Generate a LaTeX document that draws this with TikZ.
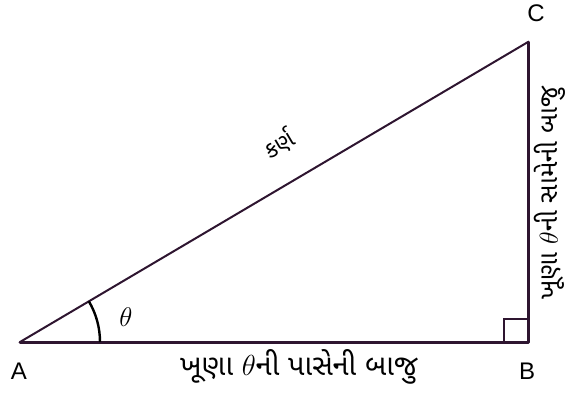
\documentclass[tikz,border=0pt]{standalone}
\usepackage{fontspec}
\usepackage{fix-cm}
\setmainfont{Liberation Sans}
\newfontfamily\guj[Script=Gujarati]{Noto Sans Gujarati UI}
\definecolor{edge}{HTML}{2E1530}
\begin{document}
\begin{tikzpicture}[x=1pt,y=-1pt,
  side/.style={draw=edge,line width=3pt},
  hyp/.style={draw=edge,line width=2pt},
  vlabel/.style={font=\fontsize{24}{26}\selectfont,inner sep=0pt},
  gtext/.style={font=\guj\fontsize{29}{31}\selectfont,inner sep=0pt}]
\useasboundingbox (0,0) rectangle (568,392);
\coordinate (A) at (20,342);
\coordinate (B) at (528,342);
\coordinate (C) at (528,42);
\draw[hyp,line cap=round] (A) -- (C);
\draw[side,line cap=round,line join=round] (A) -- (B) -- (C);
\draw[draw=edge,line width=2pt] (504,342) -- (504,319) -- (528,319);
\draw[line width=2.4pt,black] ([shift={(0:80)}]A) arc[start angle=0,end angle=-30.6,radius=80];
\node[font=\fontsize{27}{29}\selectfont,inner sep=0pt] (th) at (126,317) {$\theta$};
\node[vlabel] (lA) at (19,371) {A};
\node[vlabel] (lB) at (527,371) {B};
\node[vlabel] (lC) at (536,13) {C};
\node[font=\guj\fontsize{23}{25}\selectfont,inner sep=0pt,rotate=30.6] (hl) at (279,144) {કર્ણ};
\node[gtext] (bl) at (299,367) {ખૂણા $\theta$ની પાસેની બાજુ};
\node[font=\guj\fontsize{26}{28}\selectfont,inner sep=0pt,rotate=90] (rl) at (550,193) {ખૂણા $\theta$ની સામેની બાજુ};
\end{tikzpicture}
\end{document}
